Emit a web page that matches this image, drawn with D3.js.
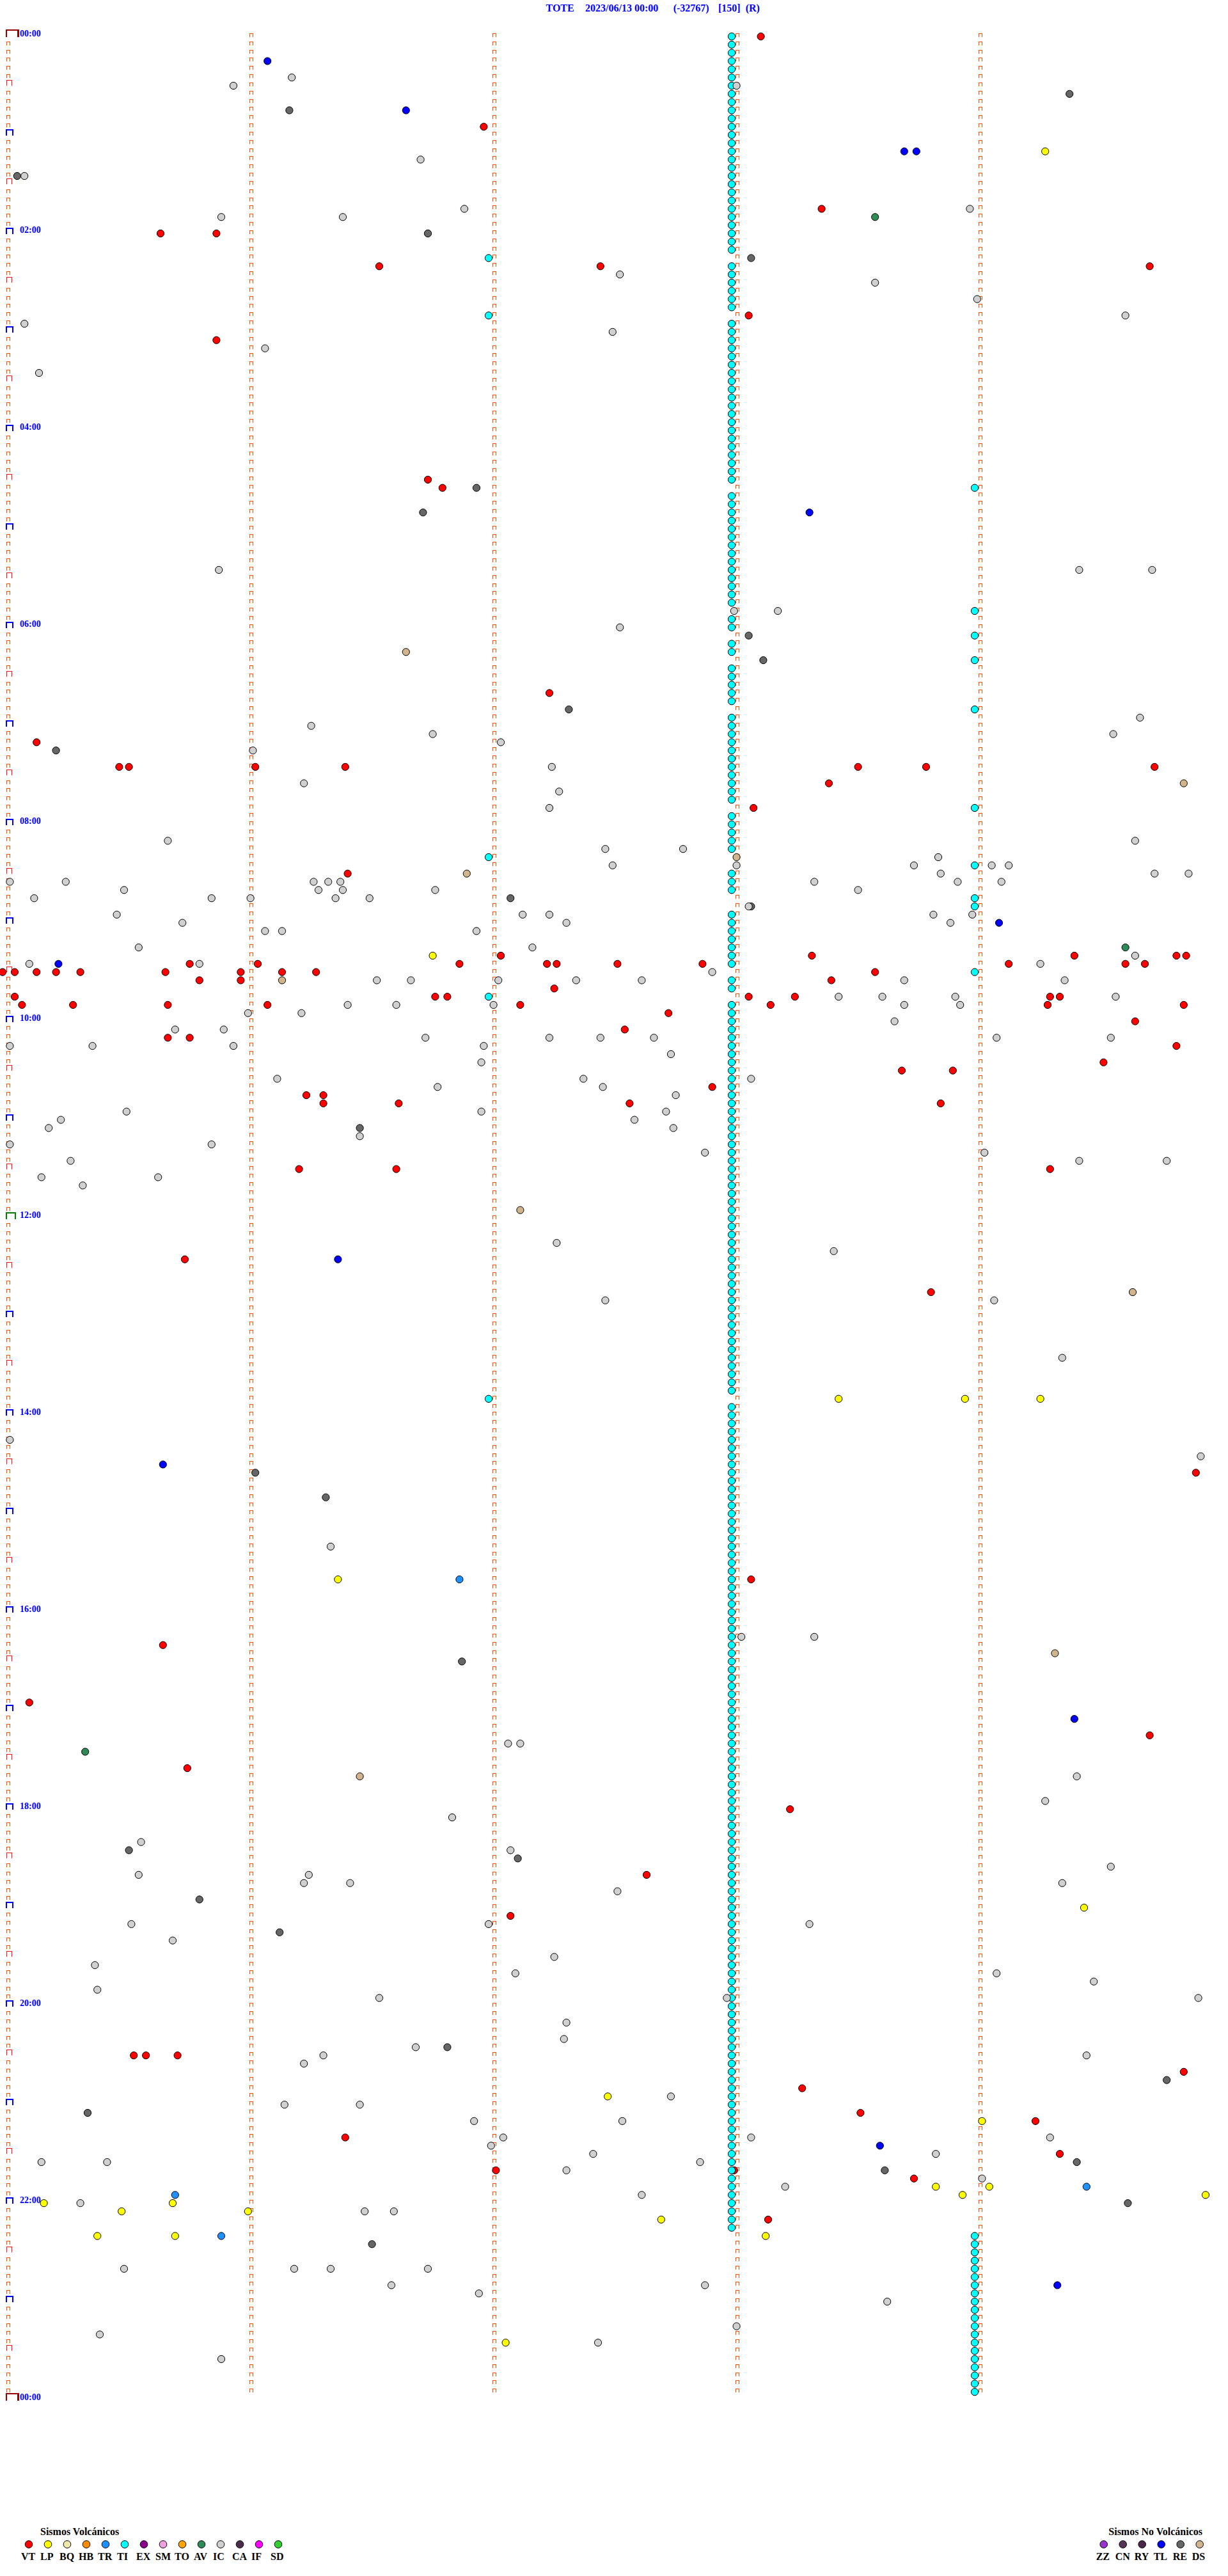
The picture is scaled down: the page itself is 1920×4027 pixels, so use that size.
<!DOCTYPE html>
<html><head><meta charset="utf-8">
<script src="https://cdn.jsdelivr.net/npm/d3@7"></script>
<style>html,body{margin:0;padding:0;background:#fff;} svg{display:block;}</style>
</head><body>
<svg id="chart" width="1920" height="4027"></svg>
<script>
// ---------------- DATA ----------------
const titleParts = ["TOTE", "2023/06/13 00:00", "(-32767)", "[150]", "(R)"];
const rowMinutes = 5;            // each helicorder row spans 5 minutes
const rowCount = 288;            // 24 h
const hourLabels = ["00:00","02:00","04:00","06:00","08:00","10:00","12:00","14:00","16:00","18:00","20:00","22:00","00:00"];

const volcanicCodes  = ["VT","LP","BQ","HB","TR","TI","EX","SM","TO","AV","IC","CA","IF","SD"];
const volcanicColors = ["#ff0000","#ffff00","#eee8aa","#ff8c00","#1e90ff","#00ffff","#8b008b","#eea0e0","#ffa500","#2e8b57","#d0d0d0","#4b2d4b","#ff00ff","#32cd32"];
const nonVolcanicCodes  = ["ZZ","CN","RY","TL","RE","DS"];
const nonVolcanicColors = ["#9932cc","#553355","#4b284b","#0000ff","#666666","#d2b48c"];

// event times, minutes after 00:00
const vtTimes = [3.12, 56.98, 108.37, 120.65, 120.88, 141.55, 142.46, 144.72, 173.07, 185.88, 271.75, 276.81, 402.25, 430.14,
  445.48, 445.52, 446.04, 446.41, 448.52, 448.80, 449.74, 458.40, 473.09, 511.42, 562.05, 563.33, 564.41, 564.83, 564.87,
  565.77, 566.05, 566.88, 567.24, 567.28, 567.53, 567.88, 569.14, 569.62, 569.70, 570.00, 570.05, 570.14, 570.22, 570.32,
  570.67, 570.98, 571.15, 571.29, 573.59, 575.81, 575.98, 578.41, 582.27, 585.05, 586.78, 586.83, 588.07, 588.26, 589.31,
  589.35, 590.08, 590.29, 590.68, 591.09, 592.13, 593.16, 594.30, 594.86, 597.74, 604.66, 607.56, 610.68, 610.77, 619.83,
  629.53, 633.70, 633.91, 642.92, 646.25, 646.32, 651.32, 651.63, 652.58, 653.86, 691.22, 691.62, 694.31, 745.75, 768.82,
  879.91, 943.08, 980.66, 1015.11, 1039.72, 1055.76, 1083.24, 1122.65, 1147.09, 1230.54, 1230.59, 1230.72, 1244.86,
  1253.29, 1268.53, 1274.25, 1281.41, 1294.35, 1302.03, 1303.01, 1308.75, 1333.15];
const lpTimes = [74.29, 561.77, 833.44, 833.96, 834.27, 941.38, 1144.45, 1257.49, 1274.03, 1313.84, 1314.06, 1318.95, 1319.95,
  1320.17, 1320.70, 1325.49, 1326.01, 1332.71, 1340.39, 1340.71, 1343.14, 1407.07];
const trTimes = [941.88, 1314.46, 1315.71, 1340.90];
const tiTimes = [3, 8, 13, 18, 23, 28, 33, 38, 43, 48, 53, 58, 63, 68, 73, 78, 83, 88, 93, 98, 103, 108, 113, 118, 123, 128, 133,
  137, 143, 148, 153, 158, 163, 168, 172,
  178, 183, 188, 193, 198, 203, 208, 213, 218, 223, 228, 233, 238, 243, 248, 253, 258, 263, 268, 273, 279,
  283, 288, 293, 298, 303, 308, 313, 318, 323, 328, 333, 338, 343, 348, 354, 358, 363, 369, 373, 378, 384,
  388, 393, 398, 403, 408, 414, 418, 423, 428, 433, 438, 443, 448, 453, 458, 463, 468, 474,
  478, 483, 488, 493, 498, 502, 509, 513, 518, 523, 529, 534, 538, 543, 548, 553, 558, 563, 568, 574, 578, 583, 587,
  593, 598, 603, 608, 613, 618, 623, 628, 633, 638, 643, 648, 653, 658, 663, 668, 673, 678, 683, 688, 693, 698, 703, 708,
  713, 718, 723, 728, 733, 738, 743, 748, 753, 758, 763, 768, 773, 778, 783, 788, 793, 798, 803, 808, 813, 818, 823, 828, 832,
  838, 843, 848, 853, 858, 863, 868, 873, 878, 883, 888, 893, 898, 903, 908, 913, 918, 923, 928, 933, 938, 943, 948, 953,
  958, 963, 968, 973, 978, 983, 988, 993, 998, 1003, 1008, 1013, 1018, 1023, 1028, 1033, 1038, 1043, 1048, 1053, 1058,
  1063, 1068, 1073, 1078, 1083, 1088, 1093, 1098, 1103, 1108, 1113, 1118, 1123, 1128, 1133, 1138, 1143, 1148, 1153, 1158,
  1163, 1168, 1173, 1178, 1183, 1188, 1193, 1198, 1203, 1208, 1213, 1218, 1223, 1228, 1233, 1238, 1243, 1248, 1253, 1258,
  1263, 1268, 1273, 1278, 1283, 1288, 1293, 1298, 1303, 1308, 1313, 1318, 1323, 1328, 1333, 1338,
  1344, 1349, 1354, 1359, 1364, 1369, 1374, 1379, 1384, 1389, 1394, 1399, 1404, 1409, 1414, 1419, 1424, 1429, 1434, 1439];
const avTimes = [113.59, 559.62, 1045.34];
const icTimes = [26.19, 30.95, 33.02, 76.72, 85.09, 106.90, 108.98, 110.90, 111.40, 147.54, 153.59, 164.01, 174.62, 175.09,
  182.51, 191.08, 205.15, 325.89, 329.43, 329.73, 353.01, 353.19, 362.54, 419.68, 421.27, 426.77, 429.57, 432.05, 436.03,
  447.26, 456.24, 462.29, 472.25, 490.68, 494.66, 497.48, 497.80, 503.85, 507.51, 508.02, 508.75, 509.07, 509.14, 513.86,
  514.74, 514.88, 515.03, 515.26, 516.28, 516.34, 516.39, 518.34, 518.93, 519.11, 520.50, 521.30, 521.40, 521.78, 523.52,
  525.13, 525.86, 526.02, 526.37, 526.51, 533.07, 535.47, 537.14, 537.25, 538.83, 538.99, 540.74, 542.32, 543.90, 546.08,
  546.15, 546.95, 555.56, 557.18, 564.66, 565.11, 565.81, 569.27, 572.92, 576.54, 576.68, 577.04, 577.36, 577.63, 578.71,
  579.37, 588.44, 588.62, 588.92, 589.58, 591.42, 591.62, 592.02, 593.71, 593.94, 596.01, 596.23, 603.67, 605.71, 605.91,
  611.74, 612.25, 612.46, 612.68, 614.09, 614.56, 615.03, 615.37, 615.95, 616.98, 622.75, 626.97, 636.13, 637.39, 638.08,
  641.79, 642.47, 647.77, 655.51, 656.97, 657.73, 660.24, 662.60, 665.19, 667.76, 671.47, 675.03, 675.86, 682.89, 684.04,
  685.28, 689.43, 689.79, 695.16, 695.64, 700.33, 737.28, 743.42, 772.48, 774.08, 809.36, 855.03, 869.93, 921.35, 978.04,
  978.34, 1042.08, 1042.13, 1064.42, 1079.29, 1086.85, 1100.57, 1107.09, 1119.56, 1120.56, 1121.26, 1126.24, 1126.43,
  1129.36, 1132.53, 1150.53, 1152.00, 1153.32, 1160.70, 1172.27, 1175.38, 1182.11, 1184.09, 1189.49, 1190.39, 1196.55,
  1197.98, 1199.92, 1212.32, 1222.31, 1226.70, 1231.32, 1234.46, 1236.24, 1257.75, 1261.16, 1261.47, 1271.94, 1272.55,
  1282.06, 1283.08, 1284.31, 1287.01, 1292.43, 1293.84, 1295.16, 1295.43, 1297.87, 1302.32, 1309.03, 1313.22, 1317.63,
  1320.32, 1326.49, 1326.61, 1360.50, 1361.20, 1361.35, 1361.75, 1371.60, 1372.89, 1376.96, 1383.64, 1398.02, 1400.40,
  1407.45, 1415.90];
const tlTimes = [16.09, 46.66, 73.71, 73.76, 293.32, 544.10, 565.23, 746.38, 870.66, 1029.41, 1288.61, 1374.34];
const reTimes = [39.39, 46.18, 85.06, 121.75, 138.08, 276.95, 291.73, 368.07, 383.13, 412.33, 435.22, 527.09, 533.08, 666.47,
  876.04, 891.33, 991.89, 1105.52, 1112.12, 1135.81, 1156.14, 1226.83, 1249.79, 1265.35, 1299.42, 1303.63, 1324.63, 1346.52];
const dsTimes = [376.66, 459.86, 503.02, 511.91, 576.15, 717.13, 769.65, 989.33, 1061.47];

// ---------------- DRAWING ----------------
const eventsByCode = {VT: vtTimes, LP: lpTimes, TR: trTimes, TI: tiTimes, AV: avTimes, IC: icTimes,
                      TL: tlTimes, RE: reTimes, DS: dsTimes};
const colorByCode = {};
volcanicCodes.forEach((c, i) => colorByCode[c] = volcanicColors[i]);
nonVolcanicCodes.forEach((c, i) => colorByCode[c] = nonVolcanicColors[i]);

const svg = d3.select("#chart");
svg.append("rect").attr("width", 1920).attr("height", 4027).attr("fill", "#fff");
const FONT = "'Liberation Serif','Times New Roman',Times,serif";

const y = d3.scaleLinear().domain([0, rowCount]).range([57, 57 + 12.83 * rowCount]);
const x = d3.scaleLinear().domain([0, rowMinutes]).range([4, 1904]);

// title
const title = svg.append("text").attr("y", 18).attr("font-family", FONT).attr("font-weight", "bold")
  .attr("font-size", 16).attr("fill", "#0000ff");
const titleX = [853.5, 915, 1052.7, 1122.9, 1165.7];
titleParts.forEach((t, i) => title.append("tspan").attr("x", titleX[i]).text(t));

// minute tick marks on every row
const gMarks = svg.append("g").attr("fill", "none").attr("shape-rendering", "crispEdges");
const rows = d3.range(rowCount);
const cols = d3.range(rowMinutes);
rows.forEach(r => {
  const yc = Math.round(y(r));
  cols.forEach(c => {
    if (c === 0 && r % 6 === 0) return;
    const px = Math.round(x(c)) + 6;
    gMarks.append("path")
      .attr("d", `M${px + 0.5},${yc + 0.5}V${yc - 4.5}H${px + 5.5}V${yc + 0.5}`)
      .attr("stroke", "#ff4d00").attr("stroke-width", 1);
  });
});
// half-hour / hour brackets on the left
d3.range(0, rowCount + 1, 6).forEach(r => {
  const yc = Math.round(y(r));
  let d, col, w;
  if (r % 144 === 0) {
    if (r === 144) { d = `M10,${yc + 0.5}V${yc - 9.5}H24V${yc + 0.5}`; col = "#008000"; w = 2; }
    else { d = `M10,${yc + 0.5}V${yc - 10}H28.5V${yc + 0.5}`; col = "#990000"; w = 2.5; }
  } else if (r % 12 === 0) {
    d = `M10,${yc + 0.5}V${yc - 8}H19.5V${yc + 0.5}`; col = "#0000ff"; w = 2;
  } else {
    d = `M10.5,${yc}V${yc - 8.5}H18.5V${yc}`; col = "#ff1010"; w = 1;
  }
  gMarks.append("path").attr("d", d).attr("stroke", col).attr("stroke-width", w);
});
// hour labels
svg.append("g").selectAll("text").data(hourLabels).join("text")
  .attr("x", 31).attr("y", (d, i) => y(i * 24) - 0.5)
  .attr("font-family", FONT).attr("font-weight", "bold").attr("font-size", 14).attr("fill", "#0000ff")
  .text(d => d);

// events
const drawOrder = nonVolcanicCodes.concat(volcanicCodes);
const gEv = svg.append("g");
drawOrder.forEach(code => {
  const times = eventsByCode[code] || [];
  gEv.append("g").selectAll("circle").data(times).join("circle")
    .attr("cx", t => { const r = Math.floor(t / rowMinutes + 1e-9); return x(t - r * rowMinutes); })
    .attr("cy", t => y(Math.floor(t / rowMinutes + 1e-9)))
    .attr("r", 5.6)
    .attr("fill", colorByCode[code]).attr("stroke", "#000").attr("stroke-width", 1);
});

// legends
function legend(codes, colors, title, cx0, titleX) {
  const g = svg.append("g").attr("font-family", FONT).attr("font-weight", "bold").attr("fill", "#000");
  g.append("text").attr("x", titleX).attr("y", 3962.5).attr("font-size", 16).text(title);
  codes.forEach((c, i) => {
    const cx = cx0 + 30 * i;
    g.append("circle").attr("cx", cx).attr("cy", 3977.5).attr("r", 5.8)
      .attr("fill", colors[i]).attr("stroke", "#000").attr("stroke-width", 1);
    g.append("text").attr("x", cx - 12).attr("y", 4002).attr("font-size", 16).text(c);
  });
}
legend(volcanicCodes, volcanicColors, "Sismos Volcánicos", 45, 63);
legend(nonVolcanicCodes, nonVolcanicColors, "Sismos No Volcánicos", 1725.7, 1733.3);
</script>
</body></html>
